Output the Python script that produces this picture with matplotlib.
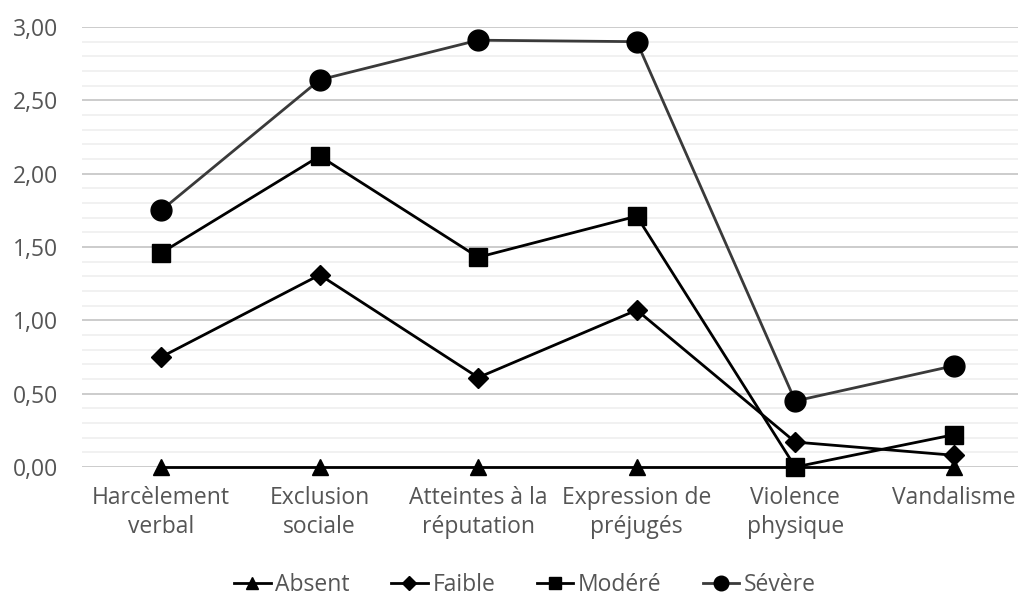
import matplotlib
matplotlib.use("Agg")
import matplotlib.pyplot as plt
from matplotlib.ticker import MultipleLocator, FuncFormatter

categories = ["Harcèlement\nverbal", "Exclusion\nsociale", "Atteintes à la\nréputation",
              "Expression de\npréjugés", "Violence\nphysique", "Vandalisme"]
absent = [0.00, 0.00, 0.00, 0.00, 0.00, 0.00]
faible = [0.75, 1.31, 0.61, 1.07, 0.17, 0.08]
modere = [1.46, 2.12, 1.43, 1.71, 0.00, 0.22]
severe = [1.75, 2.64, 2.91, 2.90, 0.45, 0.69]

plt.rcParams['font.family'] = ['Open Sans', 'DejaVu Sans']

fig = plt.figure(figsize=(10.18, 6.05), dpi=100)
ax = fig.add_axes([82/1018, (605-467)/605, (1033-82)/1018, (467-27)/605])

x = list(range(len(categories)))
ax.plot(x, absent, color='black', lw=2, marker='^', ms=12, label='Absent', zorder=3, clip_on=False)
ax.plot(x, faible, color='black', lw=2, marker='D', ms=10, label='Faible', zorder=3, clip_on=False)
ax.plot(x, modere, color='black', lw=2, marker='s', ms=13, label='Modéré', zorder=3, clip_on=False)
ax.plot(x, severe, color='#3a3a3a', lw=2, marker='o', ms=15, mfc='black', mec='black',
        label='Sévère', zorder=3, clip_on=False)

ax.set_xlim(-0.5, 5.5)
ax.set_ylim(0, 3.0)
ax.yaxis.set_major_locator(MultipleLocator(0.5))
ax.yaxis.set_minor_locator(MultipleLocator(0.1))
ax.yaxis.set_major_formatter(FuncFormatter(lambda v, p: f"{v:.2f}".replace('.', ',')))
ax.grid(axis='y', which='major', color='#c8c8c8', lw=1.3, zorder=0)
ax.grid(axis='y', which='minor', color='#f0f0f0', lw=1.3, zorder=0)
ax.set_axisbelow(True)
for s in ax.spines.values():
    s.set_visible(False)
ax.tick_params(axis='both', which='both', length=0)
ax.tick_params(axis='y', pad=17, labelsize=16.5, labelcolor='#555555')
ax.tick_params(axis='x', pad=14, labelsize=16.5, labelcolor='#555555')
ax.set_xticks(x)
ax.set_xticklabels(categories, linespacing=1.25)

leg = fig.legend(loc='center', bbox_to_anchor=(525/1018, 1 - 585/605), ncol=4, frameon=False,
                 fontsize=16.5, labelcolor='#555555', handlelength=1.6, handletextpad=0.2,
                 columnspacing=1.8, markerscale=0.7)

fig.savefig("out.png", dpi=100)
